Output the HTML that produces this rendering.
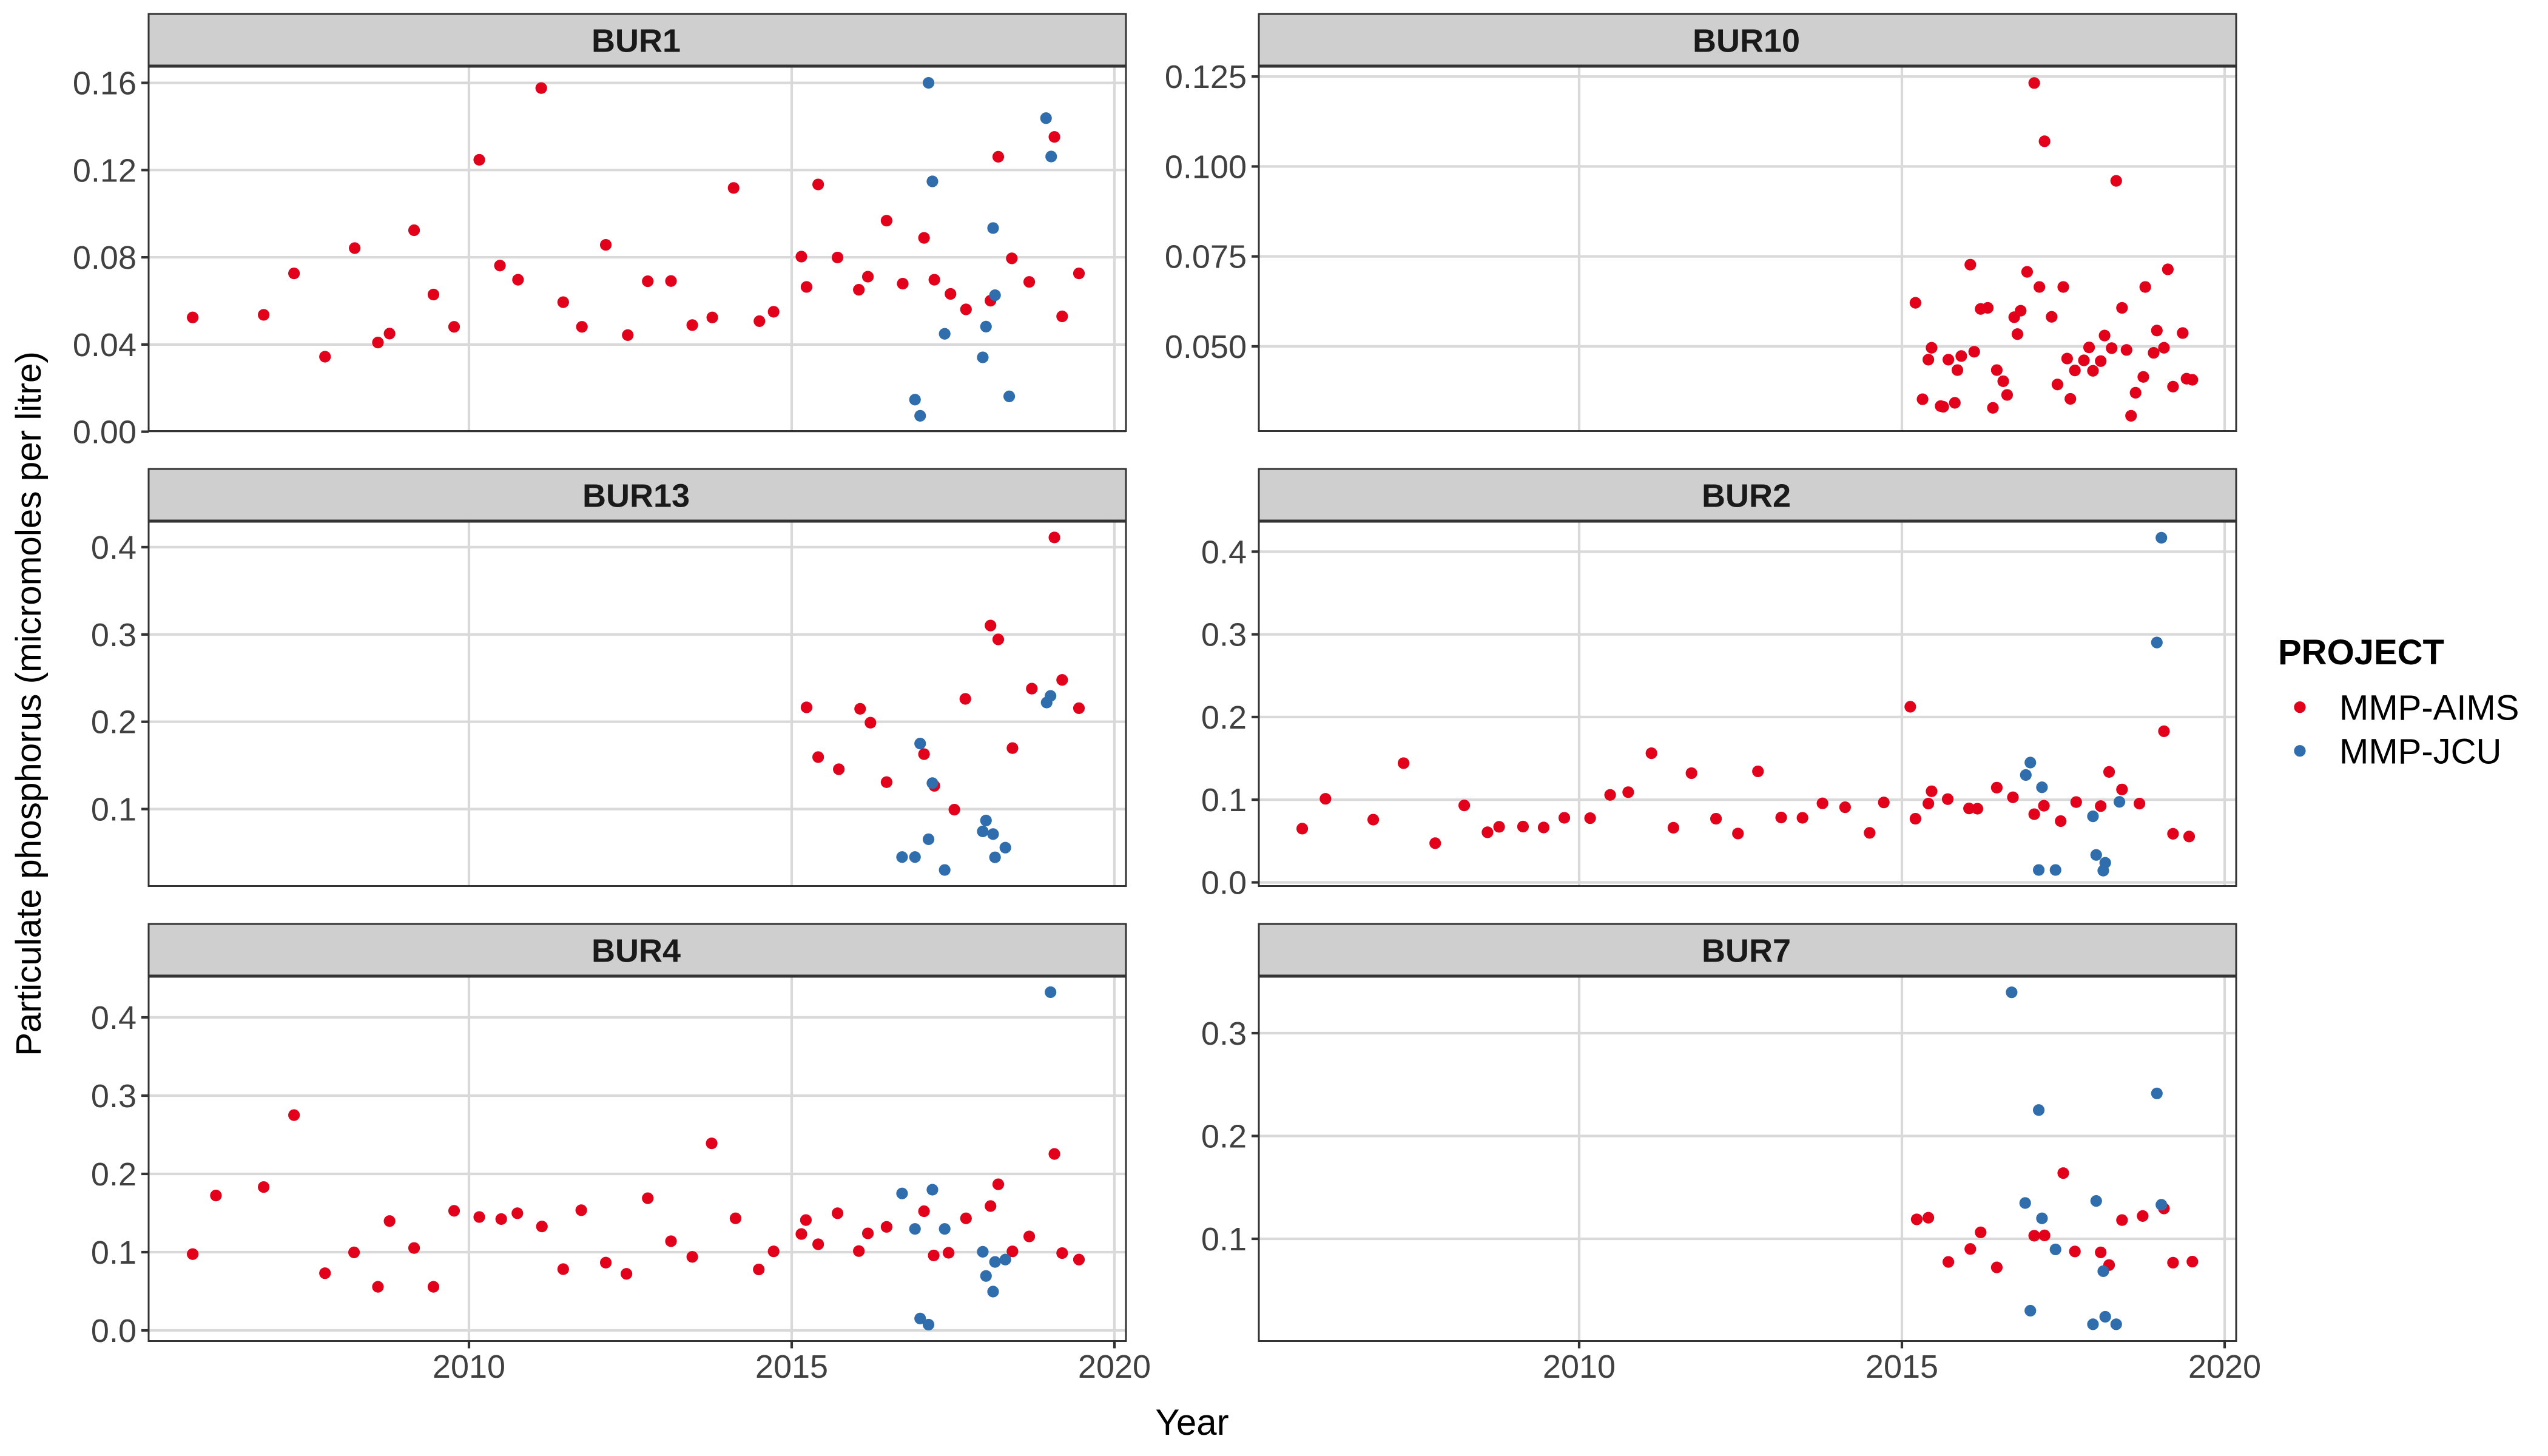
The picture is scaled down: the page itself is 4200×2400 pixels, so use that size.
<!DOCTYPE html>
<html lang="en">
<head>
<meta charset="utf-8">
<title>Particulate phosphorus by reef site</title>
<style>
html,body{margin:0;padding:0;background:#fff;}
svg{display:block;}
text{font-family:"Liberation Sans",Arial,sans-serif;}
</style>
</head>
<body>
<svg id="chart" xmlns="http://www.w3.org/2000/svg" width="4200" height="2400" viewBox="0 0 4200 2400">
  <rect x="0" y="0" width="4200" height="2400" fill="#ffffff"/>
  <g id="panels"></g>
  <text transform="translate(67,1160) rotate(-90)" text-anchor="middle" font-size="58.4" fill="#000">Particulate phosphorus (micromoles per litre)</text>
  <text x="1965" y="2365" text-anchor="middle" font-size="60" fill="#000">Year</text>
  <g>
    <text x="3755" y="1095" font-size="58" font-weight="bold" fill="#000">PROJECT</text>
    <circle cx="3791" cy="1165.7" r="9.6" fill="#E2001A"/>
    <text x="3856" y="1186.5" font-size="58" fill="#000">MMP-AIMS</text>
    <circle cx="3791" cy="1237.7" r="9.6" fill="#2F6DAD"/>
    <text x="3856" y="1258.5" font-size="58" fill="#000">MMP-JCU</text>
  </g>
</svg>
<script>
const X_TICK_LABELS = ['2010', '2015', '2020'];

const BUR1_TICKS = ['0.00', '0.04', '0.08', '0.12', '0.16'];
const BUR1_AIMS_YEAR = [2005.72,2006.82,2007.29,2007.77,2008.23,2008.59,2008.77,2009.15,2009.45,2009.77,2010.16,2010.48,2010.76,2011.12,2011.46,2011.75,2012.12,2012.46,2012.77,2013.13,2013.46,2013.77,2014.10,2014.50,2014.72,2015.15,2015.23,2015.41,2015.71,2016.04,2016.18,2016.47,2016.72,2017.05,2017.21,2017.46,2017.70,2018.08,2018.20,2018.41,2018.68,2019.07,2019.19,2019.45];
const BUR1_AIMS_VALUE = [.0524,.0536,.0726,.0344,.0842,.0409,.0450,.0924,.0629,.0481,.1247,.0762,.0697,.1576,.0594,.0481,.0857,.0443,.0690,.0691,.0489,.0524,.1118,.0507,.0550,.0803,.0664,.1134,.0799,.0651,.0711,.0968,.0679,.0889,.0697,.0632,.0561,.0601,.1261,.0795,.0687,.1352,.0529,.0726];
const BUR1_JCU_YEAR = [2017.12,2017.18,2016.91,2016.99,2017.37,2018.01,2017.96,2018.12,2018.15,2018.37,2018.94,2019.02];
const BUR1_JCU_VALUE = [.1600,.1148,.0147,.0073,.0449,.0482,.0341,.0934,.0626,.0162,.1438,.1262];

const BUR10_TICKS = ['0.050', '0.075', '0.100', '0.125'];
const BUR10_AIMS_YEAR = [2015.21,2015.32,2015.46,2015.41,2015.60,2015.64,2015.72,2015.82,2015.86,2015.92,2016.06,2016.12,2016.22,2016.33,2016.41,2016.47,2016.57,2016.63,2016.74,2016.79,2016.84,2016.94,2017.05,2017.13,2017.21,2017.32,2017.41,2017.50,2017.56,2017.61,2017.68,2017.82,2017.90,2017.96,2018.08,2018.14,2018.25,2018.32,2018.41,2018.48,2018.55,2018.62,2018.74,2018.77,2018.90,2018.95,2019.06,2019.12,2019.20,2019.35,2019.41,2019.50];
const BUR10_AIMS_VALUE = [.0621,.0353,.0496,.0463,.0334,.0332,.0463,.0343,.0434,.0473,.0727,.0485,.0604,.0607,.0329,.0434,.0403,.0365,.0581,.0534,.0599,.0707,.1232,.0665,.1070,.0582,.0394,.0665,.0466,.0354,.0433,.0461,.0497,.0432,.0459,.0530,.0495,.0960,.0607,.0490,.0307,.0371,.0415,.0665,.0482,.0544,.0496,.0714,.0388,.0537,.0410,.0407];
const BUR10_JCU_YEAR = [];
const BUR10_JCU_VALUE = [];

const BUR13_TICKS = ['0.1', '0.2', '0.3', '0.4'];
const BUR13_AIMS_YEAR = [2015.23,2015.41,2015.73,2016.06,2016.22,2016.47,2017.05,2017.21,2017.52,2017.69,2018.08,2018.20,2018.42,2018.72,2019.07,2019.19,2019.45];
const BUR13_AIMS_VALUE = [.2165,.1595,.1456,.2148,.1989,.1308,.1629,.1266,.0993,.2262,.3102,.2943,.1698,.2379,.4111,.2479,.2155];
const BUR13_JCU_YEAR = [2016.71,2016.91,2016.99,2017.12,2017.18,2017.37,2017.96,2018.01,2018.12,2018.15,2018.31,2018.95,2019.01];
const BUR13_JCU_VALUE = [.0450,.0450,.1750,.0654,.1297,.0302,.0744,.0869,.0713,.0447,.0558,.2220,.2296];

const BUR2_TICKS = ['0.0', '0.1', '0.2', '0.3', '0.4'];
const BUR2_AIMS_YEAR = [2005.71,2006.07,2006.81,2007.28,2007.77,2008.22,2008.58,2008.76,2009.13,2009.45,2009.77,2010.17,2010.48,2010.76,2011.12,2011.46,2011.74,2012.12,2012.46,2012.77,2013.13,2013.46,2013.77,2014.12,2014.50,2014.72,2015.13,2015.21,2015.41,2015.46,2015.71,2016.04,2016.17,2016.47,2016.72,2017.05,2017.20,2017.46,2017.70,2018.08,2018.21,2018.41,2018.68,2019.06,2019.20,2019.45];
const BUR2_AIMS_VALUE = [.0650,.1011,.0759,.1442,.0474,.0931,.0606,.0672,.0675,.0664,.0781,.0777,.1058,.1091,.1562,.0661,.1321,.0770,.0591,.1343,.0785,.0781,.0956,.0909,.0599,.0967,.2124,.0770,.0953,.1102,.1007,.0894,.0891,.1146,.1029,.0825,.0927,.0741,.0971,.0923,.1336,.1124,.0953,.1828,.0588,.0555];
const BUR2_JCU_YEAR = [2016.92,2016.99,2017.12,2017.17,2017.38,2017.96,2018.01,2018.15,2018.12,2018.37,2018.95,2019.02];
const BUR2_JCU_VALUE = [.1299,.1449,.0150,.1150,.0150,.0799,.0332,.0237,.0142,.0974,.2901,.4168];

const BUR4_TICKS = ['0.0', '0.1', '0.2', '0.3', '0.4'];
const BUR4_AIMS_YEAR = [2005.72,2006.08,2006.82,2007.29,2007.77,2008.22,2008.59,2008.77,2009.15,2009.45,2009.77,2010.16,2010.50,2010.75,2011.13,2011.46,2011.74,2012.12,2012.44,2012.77,2013.13,2013.46,2013.76,2014.13,2014.49,2014.72,2015.15,2015.22,2015.41,2015.71,2016.04,2016.18,2016.47,2017.05,2017.20,2017.43,2017.70,2018.08,2018.20,2018.42,2018.68,2019.07,2019.19,2019.45];
const BUR4_AIMS_VALUE = [.0975,.1724,.1832,.2751,.0731,.0997,.0557,.1397,.1053,.0557,.1528,.1449,.1423,.1497,.1328,.0783,.1536,.0866,.0723,.1689,.1140,.0940,.2390,.1432,.0779,.1010,.1232,.1410,.1101,.1497,.1014,.1240,.1323,.1523,.0958,.0992,.1432,.1589,.1867,.1010,.1201,.2255,.0988,.0905];
const BUR4_JCU_YEAR = [2016.71,2016.91,2016.99,2017.12,2017.18,2017.37,2017.96,2018.01,2018.12,2018.15,2018.31,2019.01];
const BUR4_JCU_VALUE = [.1750,.1297,.0152,.0074,.1798,.1297,.1005,.0696,.0496,.0875,.0905,.4322];

const BUR7_TICKS = ['0.1', '0.2', '0.3'];
const BUR7_AIMS_YEAR = [2015.23,2015.41,2015.72,2016.06,2016.22,2016.47,2017.05,2017.21,2017.50,2017.68,2018.08,2018.21,2018.41,2018.73,2019.06,2019.20,2019.50];
const BUR7_AIMS_VALUE = [.1189,.1205,.0775,.0901,.1063,.0722,.1030,.1033,.1639,.0877,.0868,.0745,.1182,.1222,.1295,.0768,.0778];
const BUR7_JCU_YEAR = [2016.70,2016.91,2016.99,2017.12,2017.17,2017.38,2017.96,2018.01,2018.12,2018.15,2018.32,2018.95,2019.02];
const BUR7_JCU_VALUE = [.3397,.1348,.0301,.2252,.1199,.0897,.0169,.1368,.0685,.0242,.0169,.2414,.1331];

const SVG_NS = 'http://www.w3.org/2000/svg';
const AIMS_COLOUR = '#E2001A';
const JCU_COLOUR = '#2F6DAD';
const root = document.getElementById('panels');

function make(parent, tag, attrs) {
  const el = document.createElementNS(SVG_NS, tag);
  for (const k in attrs) el.setAttribute(k, attrs[k]);
  parent.appendChild(el);
  return el;
}

function drawPoints(group, years, values, xScale, yScale, colour, series) {
  for (let i = 0; i < years.length; i++) {
    const dot = make(group, 'circle', {cx: xScale(years[i]), cy: yScale(values[i]), r: 9.6, fill: colour});
    
    
  }
}

function drawPanel(site, left, row, hasXAxis, ticks, yScale, aims, jcu) {
  const width = 1611;
  const stripTop = 23 + row * 750;
  const stripBottom = 108 + row * 750;
  const top = 110 + row * 750;
  const bottom = 710.5 + row * 750;
  const xScale = year => left + 528 + (year - 2010) * 106.4;
  const slug = site.toLowerCase();

  const g = make(root, 'g', {});
  
  

  const bg = make(g, 'rect', {x: left, y: top, width: width, height: bottom - top, fill: '#fff'});
  
  

  for (const label of ticks) {
    const y = yScale(parseFloat(label));
    const grid = make(g, 'line', {x1: left, x2: left + width, y1: y, y2: y, stroke: '#d9d9d9', 'stroke-width': 4.2});
    
    
    const tick = make(g, 'line', {x1: left - 12, x2: left, y1: y, y2: y, stroke: '#333', 'stroke-width': 4.2});
    
    
    const text = make(g, 'text', {x: left - 20, y: y + 19, 'text-anchor': 'end', 'font-size': 54, fill: '#404040'});
    text.textContent = label;
    
    
  }

  for (const label of X_TICK_LABELS) {
    const x = xScale(parseFloat(label));
    const grid = make(g, 'line', {x1: x, x2: x, y1: top, y2: bottom, stroke: '#d9d9d9', 'stroke-width': 4.2});
    
    
    if (hasXAxis) {
      const tick = make(g, 'line', {x1: x, x2: x, y1: bottom, y2: bottom + 12, stroke: '#333', 'stroke-width': 4.2});
      
      
      const text = make(g, 'text', {x: x, y: 2271, 'text-anchor': 'middle', 'font-size': 54, fill: '#404040'});
      text.textContent = label;
      
      
    }
  }

  drawPoints(g, aims[0], aims[1], xScale, yScale, AIMS_COLOUR, 'mmp-aims');
  drawPoints(g, jcu[0], jcu[1], xScale, yScale, JCU_COLOUR, 'mmp-jcu');

  const border = make(g, 'rect', {x: left, y: top, width: width, height: bottom - top, fill: 'none', stroke: '#333', 'stroke-width': 3});
  
  

  const strip = make(g, 'rect', {x: left, y: stripTop, width: width, height: stripBottom - stripTop, fill: '#cfcfcf', stroke: '#333', 'stroke-width': 3});
  
  

  const title = make(g, 'text', {x: left + width / 2 - 2, y: stripTop + 62.5, 'text-anchor': 'middle', 'font-size': 54, 'font-weight': 'bold', fill: '#1a1a1a'});
  title.textContent = site;
  
  
}

drawPanel('BUR1', 245, 0, false, BUR1_TICKS, v => 711.6 - v * 3594, [BUR1_AIMS_YEAR, BUR1_AIMS_VALUE], [BUR1_JCU_YEAR, BUR1_JCU_VALUE]);
drawPanel('BUR10', 2075, 0, false, BUR10_TICKS, v => 570.9 - (v - 0.05) * 5930, [BUR10_AIMS_YEAR, BUR10_AIMS_VALUE], [BUR10_JCU_YEAR, BUR10_JCU_VALUE]);
drawPanel('BUR13', 245, 1, false, BUR13_TICKS, v => 1333.6 - (v - 0.1) * 1439, [BUR13_AIMS_YEAR, BUR13_AIMS_VALUE], [BUR13_JCU_YEAR, BUR13_JCU_VALUE]);
drawPanel('BUR2', 2075, 1, false, BUR2_TICKS, v => 1454.5 - v * 1363, [BUR2_AIMS_YEAR, BUR2_AIMS_VALUE], [BUR2_JCU_YEAR, BUR2_JCU_VALUE]);
drawPanel('BUR4', 245, 2, true, BUR4_TICKS, v => 2193 - v * 1290, [BUR4_AIMS_YEAR, BUR4_AIMS_VALUE], [BUR4_JCU_YEAR, BUR4_JCU_VALUE]);
drawPanel('BUR7', 2075, 2, true, BUR7_TICKS, v => 2042 - (v - 0.1) * 1695, [BUR7_AIMS_YEAR, BUR7_AIMS_VALUE], [BUR7_JCU_YEAR, BUR7_JCU_VALUE]);
</script>
</body>
</html>
